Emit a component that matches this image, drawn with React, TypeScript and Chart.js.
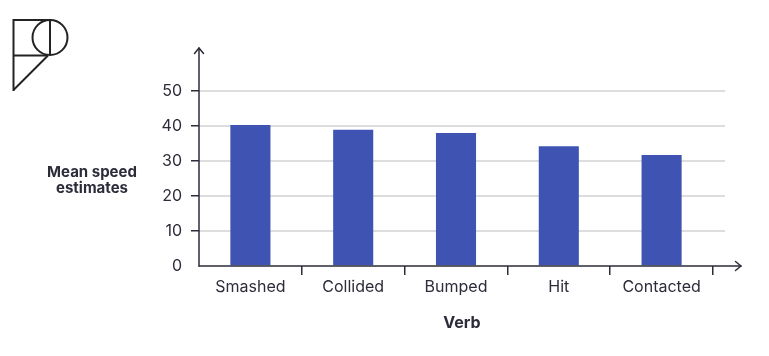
import React, { useEffect, useRef } from 'react';
import { Chart, registerables } from 'chart.js';

Chart.register(...registerables);

const categories = ['Smashed', 'Collided', 'Bumped', 'Hit', 'Contacted'];
const meanSpeed = [40.3, 38.9, 38.0, 34.2, 31.7];
const yTicks = [0, 10, 20, 30, 40, 50];
const xTitle = 'Verb';
const yTitle = ['Mean speed', 'estimates'];

const AXIS = '#2c2c3a';
const GRID = '#d2d2d6';
const BAR = '#3f54b2';
const FONT = 'Inter, "Noto Sans", sans-serif';

const decor = {
  id: 'decor',
  beforeDatasetsDraw(chart: any) {
    const { ctx, chartArea, scales } = chart;
    const y = scales.y;
    ctx.save();
    ctx.strokeStyle = GRID;
    ctx.lineWidth = 1.5;
    y.ticks.forEach((t: any) => {
      if (t.value === yTicks[0]) return;
      const py = Math.round(y.getPixelForValue(t.value));
      ctx.beginPath();
      ctx.moveTo(chartArea.left, py);
      ctx.lineTo(chartArea.right + 12, py);
      ctx.stroke();
    });
    ctx.restore();
  },
  afterDraw(chart: any) {
    const { ctx, chartArea } = chart;
    const L = chartArea.left;
    const B = chartArea.bottom;
    ctx.save();
    ctx.strokeStyle = AXIS;
    ctx.lineWidth = 1.5;
    ctx.lineCap = 'round';
    ctx.lineJoin = 'round';
    // x axis with arrow
    const xEnd = chartArea.right + 28;
    ctx.beginPath();
    ctx.moveTo(L, B);
    ctx.lineTo(xEnd, B);
    ctx.stroke();
    ctx.beginPath();
    ctx.moveTo(xEnd - 5.5, B - 4.5);
    ctx.lineTo(xEnd, B);
    ctx.lineTo(xEnd - 5.5, B + 4.5);
    ctx.stroke();
    // y axis with arrow
    const yEnd = chartArea.top - 43;
    ctx.beginPath();
    ctx.moveTo(L, B);
    ctx.lineTo(L, yEnd);
    ctx.stroke();
    ctx.beginPath();
    ctx.moveTo(L - 4.5, yEnd + 5.5);
    ctx.lineTo(L, yEnd);
    ctx.lineTo(L + 4.5, yEnd + 5.5);
    ctx.stroke();
    // titles
    ctx.fillStyle = AXIS;
    ctx.font = `bold 16px ${FONT}`;
    ctx.textAlign = 'center';
    ctx.textBaseline = 'alphabetic';
    ctx.fillText(xTitle, 462, 328);
    ctx.font = `bold 15px ${FONT}`;
    ctx.fillText(yTitle[0], 92, 176.5);
    ctx.fillText(yTitle[1], 92, 193);
    ctx.restore();
  },
};

export default function App() {
  const ref = useRef<HTMLCanvasElement>(null);
  useEffect(() => {
    if (!ref.current) return;
    const chart = new Chart(ref.current, {
      type: 'bar',
      data: {
        labels: categories,
        datasets: [
          {
            data: meanSpeed,
            backgroundColor: BAR,
            borderWidth: 0,
            categoryPercentage: 1,
            barPercentage: 0.39,
          },
        ],
      },
      options: {
        responsive: false,
        animation: false,
        layout: { padding: { top: 91, right: 56, left: 0, bottom: 0 } },
        plugins: { legend: { display: false }, tooltip: { enabled: false } },
        scales: {
          x: {
            afterFit: (s: any) => {
              s.height = 90;
            },
            border: { display: false },
            grid: {
              offset: true,
              drawOnChartArea: false,
              drawTicks: true,
              tickLength: 9,
              lineWidth: 1.5,
              color: (c: any) => (c.index === 0 ? 'rgba(0,0,0,0)' : AXIS),
            },
            ticks: {
              color: AXIS,
              padding: 3,
              font: { family: FONT, size: 16 },
            },
          },
          y: {
            min: yTicks[0],
            max: yTicks[yTicks.length - 1],
            afterFit: (s: any) => {
              s.width = 199;
            },
            border: { display: false },
            grid: {
              drawOnChartArea: false,
              drawTicks: true,
              tickLength: 8,
              lineWidth: 1.5,
              color: (c: any) => (c.index === 0 ? 'rgba(0,0,0,0)' : AXIS),
            },
            ticks: {
              stepSize: yTicks[1] - yTicks[0],
              color: AXIS,
              padding: 9,
              font: { family: FONT, size: 16 },
            },
          },
        },
      },
      plugins: [decor],
    });
    return () => chart.destroy();
  }, []);

  return (
    <div style={{ position: 'fixed', left: 0, top: 0, width: 769, height: 356, background: '#fff' }}>
      <canvas ref={ref} width={769} height={356} style={{ position: 'absolute', left: 0, top: 0 }} />
      <svg
        width={80}
        height={100}
        style={{ position: 'absolute', left: 0, top: 0 }}
        fill="none"
        stroke="#222"
        strokeWidth={2}
      >
        <path d="M13.5 20 H50" />
        <path d="M13.5 19 V91" />
        <path d="M13.5 55.5 H48" />
        <circle cx={50} cy={37.5} r={17.5} />
        <path d="M50 20 V55" />
        <path d="M48 55.5 L13.5 90" />
      </svg>
    </div>
  );
}
